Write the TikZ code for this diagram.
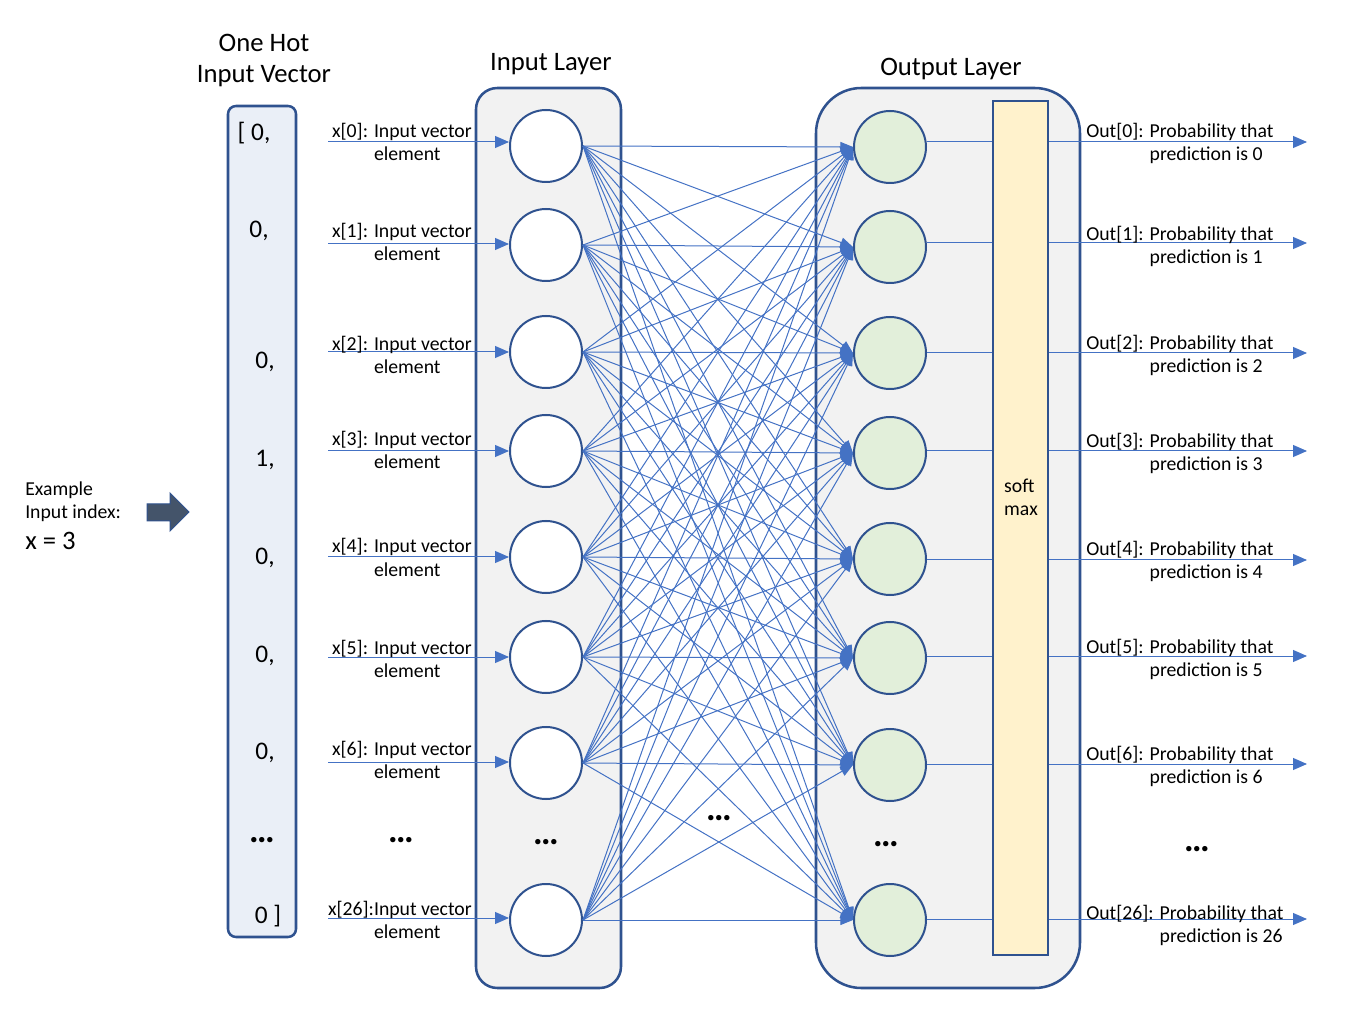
\documentclass[tikz,border=0pt]{standalone}
\usepackage{fontspec}
\setmainfont{Carlito}
\usetikzlibrary{arrows.meta}
\definecolor{bdr}{HTML}{2F528F}
\definecolor{cn}{HTML}{4472C4}
\definecolor{grayfill}{HTML}{F2F2F2}
\definecolor{greenfill}{HTML}{E2EFDA}
\definecolor{yellowfill}{HTML}{FFF2CC}
\definecolor{bluefill}{HTML}{EAEFF7}
\definecolor{arrowfill}{HTML}{44546A}
\begin{document}
\begin{tikzpicture}[x=0.75pt,y=-0.75pt,
 lbl/.style={font=\fontsize{14.8}{17.25}\selectfont, inner sep=0},
 big/.style={font=\fontsize{20}{24.5}\selectfont, inner sep=0},
 vec/.style={font=\fontsize{19}{22}\selectfont, inner sep=0},
 neuron/.style={circle, draw=bdr, line width=1.5pt, minimum size=54pt, inner sep=0},
 inneuron/.style={neuron, fill=white},
 outneuron/.style={neuron, fill=greenfill},
 conn/.style={draw=cn, line width=0.75pt},
 fan/.style={conn, -{Triangle[length=9.5pt,width=7.5pt]}},
 feed/.style={conn, -{Triangle[length=10.5pt,width=9pt]}},
 layerbox/.style={draw=bdr, line width=1.9pt, fill=grayfill},
 dots/.style={font=\fontsize{27}{28}\selectfont\bfseries, inner sep=0}
]
\useasboundingbox (0,0) rectangle (1354,1030);

% titles
\node[big] (t1) at (264,43) {One Hot};
\node[big] (t2) at (264,76) {Input Vector};
\node[big] (t3) at (551,64) {Input Layer};
\node[big] (t4) at (951,69) {Output Layer};

% left example
\node[lbl, anchor=base west] (ex1) at (25,496) {Example};
\node[lbl, anchor=base west] (ex2) at (25,519) {Input index:};
\node[big, anchor=base west] (ex3) at (25,550) {x = 3};
\draw[fill=arrowfill, draw=bdr, line width=0.75pt] (147,504) -- (170,504) -- (170,493) -- (189,512) -- (170,531) -- (170,521) -- (147,521) -- cycle;

% one-hot vector box
\draw[draw=bdr, line width=1.9pt, fill=bluefill, rounded corners=6pt] (228,106) rectangle (296,937);
\node[vec] (v0) at (254,133) {[ 0,};
\node[vec] (v1) at (259,231) {0,};
\node[vec] (v2) at (265,362) {0,};
\node[vec] (v3) at (265,460) {1,};
\node[vec] (v4) at (265,558) {0,};
\node[vec] (v5) at (265,656) {0,};
\node[vec] (v6) at (265,753) {0,};
\node[dots] (v7) at (262,840) {…};
\node[vec] (v8) at (268,916) {0 ]};

% layer boxes
\draw[layerbox, rounded corners=16pt] (476,88) rectangle (621,988);
\draw[layerbox, rounded corners=34pt] (816,88) rectangle (1080,988);
\node[draw=bdr, line width=1.9pt, fill=yellowfill, minimum width=41.25pt, minimum height=640.5pt, inner sep=0] (sm) at (1020.5,528) {};
\node[lbl] (smt) at (1021,499) {\begin{tabular}{@{}l@{}}soft\\max\end{tabular}};

% input neurons and feeding arrows
\foreach \k/\idx/\cy/\ay/\ly in {0/0/146/142/130, 1/1/245/244/230, 2/2/352/352/343, 3/3/451/451/438, 4/4/557/557/545, 5/5/657/657/646, 6/6/763/762/747}{
  \node[inneuron] (i\k) at (546,\cy) {};
  \coordinate (s\k) at (328,\ay);
  \draw[feed] (s\k) -- (i\k.west |- s\k);
  \node[lbl, anchor=base east] (il\k) at (472,\ly+8) {x[\idx]: \begin{tabular}[t]{@{}l@{}}Input vector\\element\end{tabular}};
}
\node[inneuron] (i7) at (546,920) {};
\coordinate (s7) at (328,918);
\draw[feed] (s7) -- (i7.west |- s7);
\node[lbl, anchor=base east] (il7) at (472,915) {x[26]:\begin{tabular}[t]{@{}l@{}}Input vector\\element\end{tabular}};

% output neurons and output arrows
\foreach \k/\idx/\cy/\ay/\ly in {0/0/147/142/130, 1/1/247/243/233, 2/2/353/353/342, 3/3/453/451/440, 4/4/559/560/548, 5/5/658/656/645, 6/6/765/764/752, 7/26/920/919/911}{
  \node[outneuron] (o\k) at (890,\cy) {};
  \coordinate (e\k) at (1307,\ay);
  \draw[conn] (o\k.east |- e\k) -- (sm.west |- e\k);
  \draw[feed] (sm.east |- e\k) -- (e\k);
  \node[lbl, anchor=base west] (ol\k) at (1086,\ly+8) {Out[\idx]: \begin{tabular}[t]{@{}l@{}}Probability that\\prediction is \idx\end{tabular}};
}

% fully connected
\foreach \a in {0,...,7}{
  \foreach \b in {0,...,7}{
    \draw[fan] (i\a.east) -- (o\b.west);
  }
}

% dots
\node[dots] (d1) at (401,840) {…};
\node[dots] (d2) at (546,842) {…};
\node[dots] (d3) at (719,818) {…};
\node[dots] (d4) at (886,844) {…};
\node[dots] (d5) at (1197,849) {…};
\end{tikzpicture}
\end{document}
